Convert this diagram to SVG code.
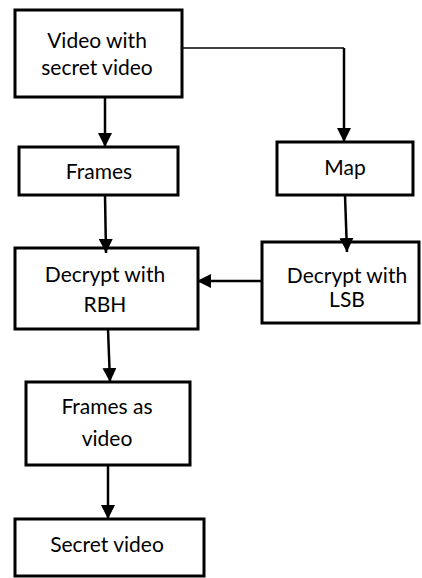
<svg xmlns="http://www.w3.org/2000/svg" width="422" height="578" viewBox="0 0 422 578">
  <style>
    .box { fill: #fff; stroke: #000; stroke-width: 3; }
    .lbl { font-family: Lato, "Liberation Sans", sans-serif; font-size: 21px; fill: #000; text-anchor: middle; }
    .wire { fill: none; stroke: #000; stroke-width: 2.5; }
    .thin { fill: none; stroke: #000; stroke-width: 1.5; }
  </style>
  <defs>
    <marker id="head" viewBox="0 0 14 14" refX="14" refY="7" markerWidth="14" markerHeight="14" markerUnits="userSpaceOnUse" orient="auto">
      <path d="M0,0 L14,7 L0,14 Z" fill="#000"/>
    </marker>
  </defs>

  <!-- nodes -->
  <g id="video-with-secret">
    <rect class="box" x="15" y="10" width="167" height="87"/>
    <text class="lbl" x="97" y="48">Video with</text>
    <text class="lbl" x="97" y="75">secret video</text>
  </g>
  <g id="frames">
    <rect class="box" x="19" y="147" width="159" height="48"/>
    <text class="lbl" x="99" y="179">Frames</text>
  </g>
  <g id="map">
    <rect class="box" x="277" y="142" width="136" height="53"/>
    <text class="lbl" x="345" y="175">Map</text>
  </g>
  <g id="decrypt-rbh">
    <rect class="box" x="15" y="248" width="183" height="81"/>
    <text class="lbl" x="105" y="282">Decrypt with</text>
    <text class="lbl" x="105" y="312">RBH</text>
  </g>
  <g id="decrypt-lsb">
    <rect class="box" x="262" y="242" width="157" height="81"/>
    <text class="lbl" x="347" y="283">Decrypt with</text>
    <text class="lbl" x="347" y="307">LSB</text>
  </g>
  <g id="frames-as-video">
    <rect class="box" x="26" y="382" width="164" height="83"/>
    <text class="lbl" x="107" y="414">Frames as</text>
    <text class="lbl" x="107" y="446">video</text>
  </g>
  <g id="secret-video">
    <rect class="box" x="15" y="519" width="189" height="57"/>
    <text class="lbl" x="107" y="552">Secret video</text>
  </g>

  <!-- connectors -->
  <g id="connectors">
    <line class="wire" x1="105" y1="97" x2="105" y2="147" marker-end="url(#head)"/>
    <path class="thin" d="M182,48 H344"/>
    <line class="wire" x1="344" y1="48" x2="344" y2="142" marker-end="url(#head)"/>
    <line class="wire" x1="105" y1="195" x2="106" y2="253" marker-end="url(#head)"/>
    <line class="wire" x1="345" y1="195" x2="347" y2="252" marker-end="url(#head)"/>
    <line class="wire" x1="262" y1="281" x2="197" y2="281" marker-end="url(#head)"/>
    <line class="wire" x1="108" y1="329" x2="110" y2="382" marker-end="url(#head)"/>
    <line class="wire" x1="108" y1="465" x2="108" y2="519" marker-end="url(#head)"/>
  </g>
</svg>
